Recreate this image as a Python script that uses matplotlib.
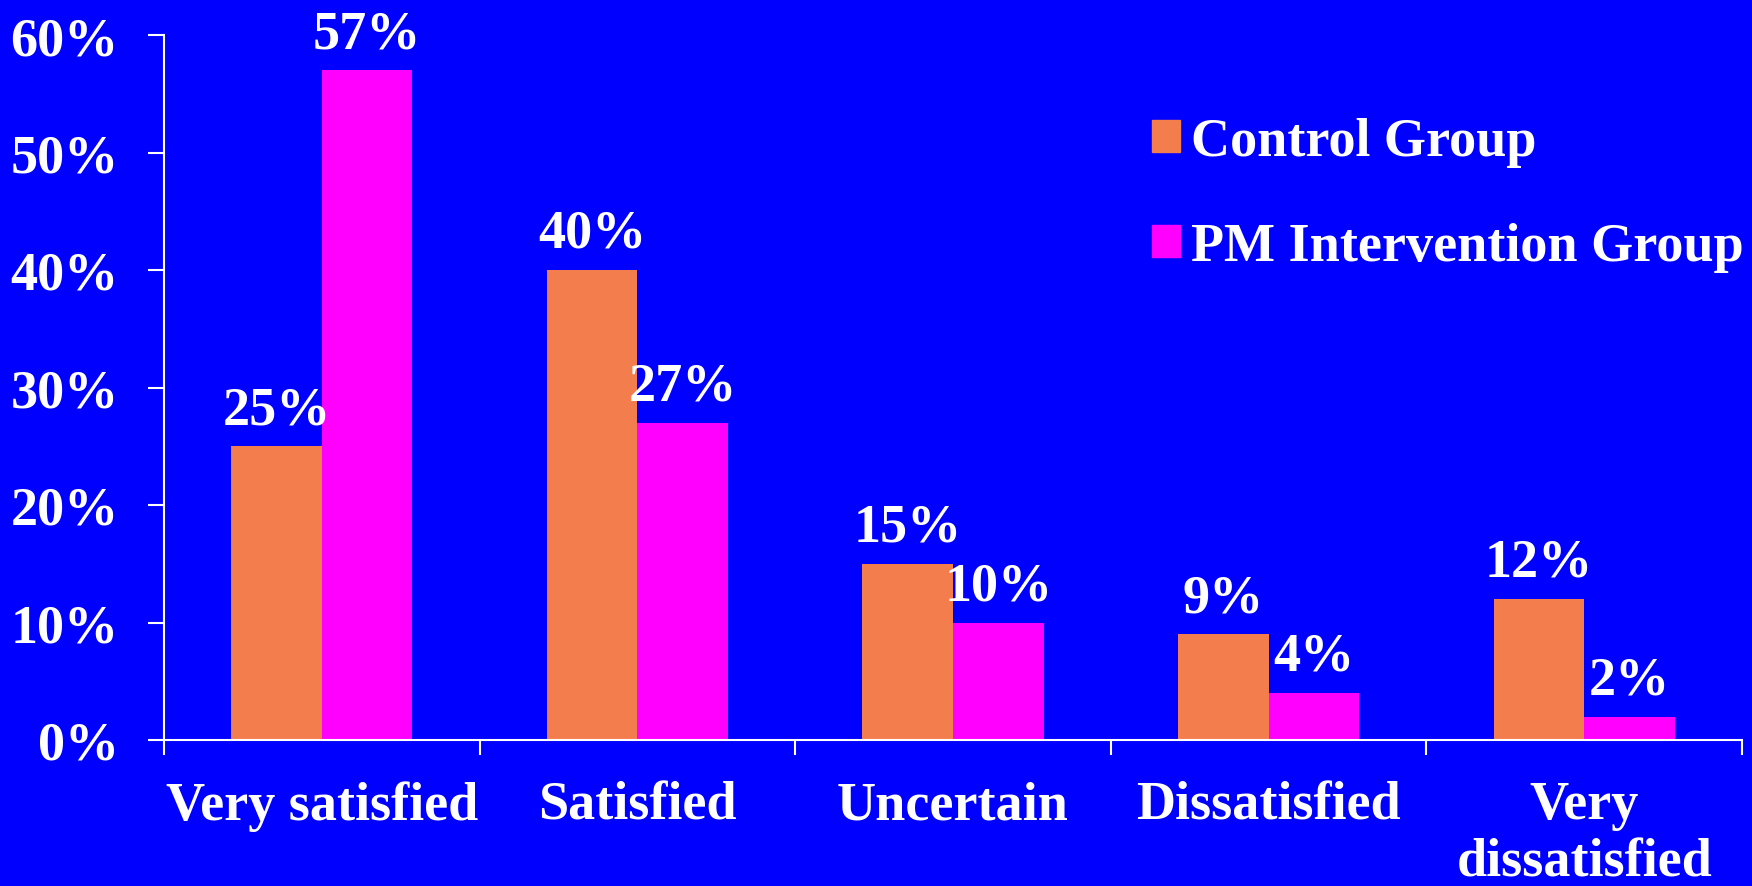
import matplotlib
matplotlib.use("Agg")
import matplotlib.pyplot as plt
import numpy as np
from matplotlib.patches import Patch

categories = ["Very satisfied", "Satisfied", "Uncertain", "Dissatisfied", "Very\ndissatisfied"]
control = [25, 40, 15, 9, 12]
intervention = [57, 27, 10, 4, 2]
series_names = ["Control Group", "PM Intervention Group"]
yticks = [0, 10, 20, 30, 40, 50, 60]

BG = "#0000FF"
ORANGE = "#F47D4D"
MAGENTA = "#FF00FF"
WHITE = "white"

plt.rcParams['font.family'] = ['Liberation Serif', 'DejaVu Serif']
plt.rcParams['font.weight'] = 'bold'
FS = 39

fig = plt.figure(figsize=(17.52, 8.87), dpi=100, facecolor=BG)
ax = fig.add_axes([164/1752, 1 - 741/887, (1742-164)/1752, (741-36)/887])
ax.set_facecolor(BG)

x = np.arange(len(categories))
w = 0.287
b1 = ax.bar(x - w/2, control, width=w, color=ORANGE, label=series_names[0])
b2 = ax.bar(x + w/2, intervention, width=w, color=MAGENTA, label=series_names[1])
for bars in (b1, b2):
    ax.bar_label(bars, labels=[f"{v}%" for v in bars.datavalues], padding=8,
                 color=WHITE, fontsize=FS, fontweight='bold')

ax.set_xlim(-0.5, len(categories) - 0.5)
ax.set_ylim(0, 60)
ax.set_yticks(yticks)
ax.set_yticklabels([f"{v}%" for v in yticks])

ax.set_xticks(np.arange(-0.5, len(categories), 1.0))
ax.set_xticklabels([])
ax.set_xticks(x, minor=True)
ax.set_xticklabels(categories, minor=True, fontsize=FS, fontweight='bold', color=WHITE,
                   linespacing=1.2)
ax.tick_params(axis='x', which='minor', length=0, pad=29)
ax.tick_params(axis='x', which='major', length=11, width=1.5, color=WHITE)
ax.tick_params(axis='y', length=11.5, width=1.5, color=WHITE, labelcolor=WHITE,
               labelsize=FS, pad=21)

for s in ['top', 'right']:
    ax.spines[s].set_visible(False)
for s in ['left', 'bottom']:
    ax.spines[s].set_color(WHITE)
    ax.spines[s].set_linewidth(1.5)

handles = [Patch(color=ORANGE), Patch(color=MAGENTA)]
leg = ax.legend(handles, series_names, loc='upper left', bbox_to_anchor=(1152/1752, 1 - 118/887),
                bbox_transform=fig.transFigure, frameon=False, fontsize=FS,
                handlelength=0.52, handleheight=0.52, handletextpad=0.2,
                labelspacing=1.02, borderpad=0, borderaxespad=0)
for t in leg.get_texts():
    t.set_color(WHITE)
    t.set_fontweight('bold')

fig.savefig("out.png", dpi=100, facecolor=BG)
